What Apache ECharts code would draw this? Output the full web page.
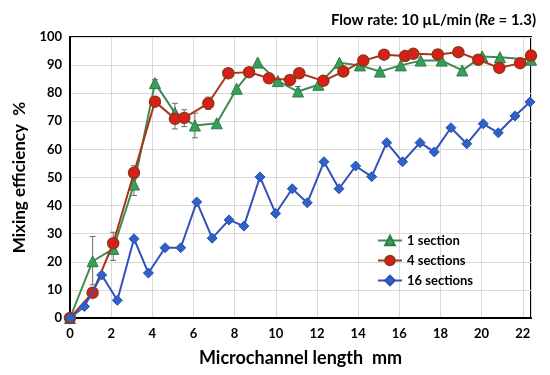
<!DOCTYPE html>
<html>
<head>
<meta charset="utf-8">
<script src="https://cdn.jsdelivr.net/npm/echarts@6/dist/echarts.min.js"></script>
<style>html,body{margin:0;padding:0;background:#fff}#c{width:550px;height:375px}</style>
</head>
<body>
<div id="c"></div>
<script>
// ---- data ----
const seriesNames = ['1 section', '4 sections', '16 sections'];

const x1 = [0, 1.1, 2.1, 3.11, 4.13, 5.1, 6.07, 7.13, 8.1, 9.12, 10.1, 11.08, 12.07, 13.09, 14.09, 15.06, 16.07, 17.04, 18.06, 19.06, 20.03, 20.89, 22.4];
const y1 = [0, 20.2, 24.6, 47.5, 83.6, 73, 68.5, 69.3, 81.6, 90.9, 84.3, 80.6, 83, 90.8, 89.9, 87.7, 89.9, 91.6, 91.6, 88.1, 93.1, 92.8, 91.9];

const x4 = [0, 1.1, 2.1, 3.11, 4.13, 5.1, 5.55, 6.72, 7.69, 8.7, 9.67, 10.69, 11.14, 12.31, 13.28, 14.25, 15.26, 16.28, 16.68, 17.87, 18.87, 19.84, 20.86, 21.87, 22.4];
const y4 = [0, 9, 26.6, 51.7, 77, 70.9, 71.2, 76.4, 87.1, 87.5, 85.3, 84.7, 87.1, 84.4, 87.7, 91.6, 93.7, 93.2, 94, 93.8, 94.6, 91.9, 89, 90.7, 93.4];

const x16 = [0, 0.70, 1.54, 2.30, 3.11, 3.81, 4.62, 5.38, 6.16, 6.91, 7.73, 8.45, 9.23, 9.99, 10.80, 11.53, 12.34, 13.07, 13.88, 14.66, 15.39, 16.16, 17.01, 17.70, 18.51, 19.28, 20.08, 20.81, 21.62, 22.35];
const y16 = [0, 4.1, 15.3, 6.3, 28.2, 16, 25, 25, 41.3, 28.4, 34.9, 32.7, 50.2, 37.2, 46, 41, 55.6, 46, 54.1, 50.3, 62.4, 55.6, 62.4, 59.1, 67.7, 62, 69.1, 65.9, 71.9, 76.9];

// error bars: x, low, high
const errX    = [1.1, 2.1, 3.11, 3.11, 4.13, 5.1, 5.55, 6.07, 6.72, 7.69, 11.08];
const errLow  = [11.8, 20.5, 43.6, 49.5, 82.3, 67.3, 68.1, 64.1, 74.2, 85.6, 78.8];
const errHigh = [29, 30.5, 51, 54.2, 84.8, 76.4, 74.1, 72.9, 78.6, 88.6, 82.4];

const xMin = 0, xMax = 22.4, xInterval = 2;
const yMin = 0, yMax = 100, yInterval = 10;

// ---- chart ----
const zip = (a, b) => a.map((v, i) => [v, b[i]]);
const FONT = 'Lato';

const chart = echarts.init(document.getElementById('c'), null, {renderer: 'canvas'});
chart.setOption({
  animation: false,
  backgroundColor: '#fff',
  title: {
    text: '{b|Flow rate: 10 µL/min (}{i|Re}{b| = 1.3)}',
    right: 9, top: 8,
    textStyle: {
      rich: {
        b: {fontFamily: FONT, fontWeight: 'bold', fontSize: 15, color: '#000'},
        i: {fontFamily: FONT, fontWeight: 'bold', fontStyle: 'italic', fontSize: 15, color: '#000'}
      }
    }
  },
  legend: {
    orient: 'vertical',
    left: 372, top: 229,
    itemWidth: 24, itemHeight: 12, itemGap: 7,
    data: seriesNames,
    textStyle: {fontFamily: FONT, fontWeight: 'bold', fontSize: 13, color: '#000'}
  },
  grid: {
    left: 70, right: 19, top: 37, bottom: 57,
    show: true, borderColor: '#000', borderWidth: 2
  },
  xAxis: {
    type: 'value', min: xMin, max: xMax, interval: xInterval,
    name: 'Microchannel length  mm', nameLocation: 'middle', nameGap: 31,
    nameTextStyle: {fontFamily: FONT, fontWeight: 'bold', fontSize: 18, color: '#000'},
    axisLine: {show: true, lineStyle: {color: '#000', width: 2}},
    axisTick: {show: false},
    axisLabel: {
      fontFamily: FONT, fontWeight: 'bold', fontSize: 13, color: '#000', margin: 9,
      formatter: v => (Math.abs(v % xInterval) < 1e-9 ? String(v) : '')
    },
    splitLine: {show: true, lineStyle: {color: '#d9d9d9', width: 1}}
  },
  yAxis: {
    type: 'value', min: yMin, max: yMax, interval: yInterval,
    name: 'Mixing efficiency  %', nameLocation: 'middle', nameGap: 38,
    nameTextStyle: {fontFamily: FONT, fontWeight: 'bold', fontSize: 17, color: '#000'},
    axisLine: {show: true, lineStyle: {color: '#000', width: 2}},
    axisTick: {show: false},
    axisLabel: {fontFamily: FONT, fontWeight: 'bold', fontSize: 13, color: '#000', margin: 8},
    splitLine: {show: true, lineStyle: {color: '#d9d9d9', width: 1}}
  },
  series: [
    {
      name: 'errors', type: 'custom',
      data: errX.map((x, i) => [x, errLow[i], errHigh[i]]),
      encode: {x: 0, y: [1, 2]},
      z: 1,
      renderItem: function (params, api) {
        const x = api.value(0);
        const lo = api.coord([x, api.value(1)]);
        const hi = api.coord([x, api.value(2)]);
        const w = 3;
        const st = {stroke: '#6b6b6b', lineWidth: 1};
        return {
          type: 'group',
          children: [
            {type: 'line', shape: {x1: lo[0], y1: lo[1], x2: hi[0], y2: hi[1]}, style: st},
            {type: 'line', shape: {x1: lo[0] - w, y1: lo[1], x2: lo[0] + w, y2: lo[1]}, style: st},
            {type: 'line', shape: {x1: hi[0] - w, y1: hi[1], x2: hi[0] + w, y2: hi[1]}, style: st}
          ]
        };
      }
    },
    {
      name: seriesNames[0], type: 'line', data: zip(x1, y1), z: 2,
      symbol: 'triangle', symbolSize: 11,
      lineStyle: {color: '#3f8a50', width: 2},
      itemStyle: {color: '#34a05a', borderColor: '#2f7a44', borderWidth: 1}
    },
    {
      name: seriesNames[1], type: 'line', data: zip(x4, y4), z: 3,
      symbol: 'circle', symbolSize: 11,
      lineStyle: {color: '#a8341c', width: 2},
      itemStyle: {color: '#dc1e1a', borderColor: '#8e3814', borderWidth: 1.5}
    },
    {
      name: seriesNames[2], type: 'line', data: zip(x16, y16), z: 4,
      symbol: 'diamond', symbolSize: 10,
      lineStyle: {color: '#3451b8', width: 2},
      itemStyle: {color: '#2e62c8', borderColor: '#2a52b0', borderWidth: 1}
    }
  ]
});
</script>
</body>
</html>
